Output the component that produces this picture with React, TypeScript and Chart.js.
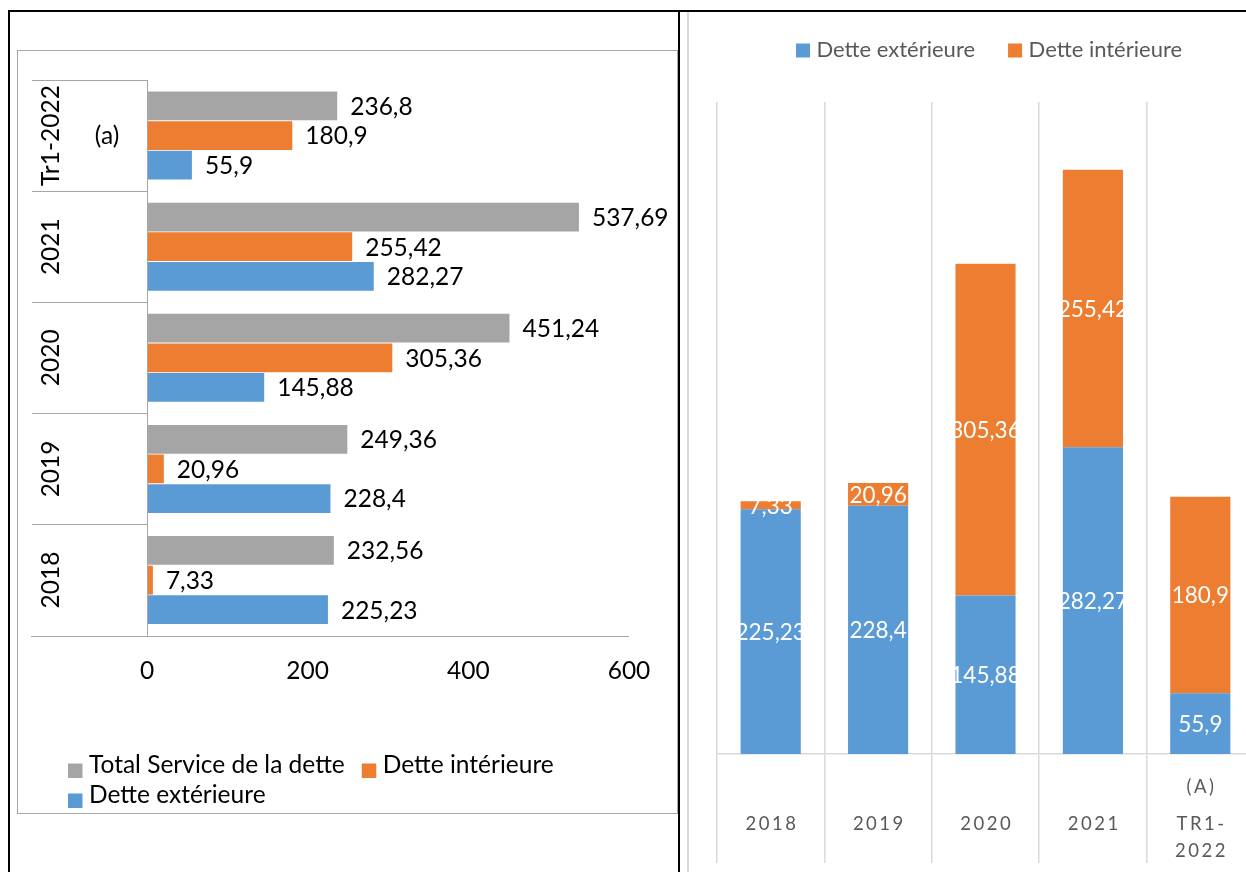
import React, { useEffect, useRef } from 'react';
import { Chart, registerables } from 'chart.js';

Chart.register(...registerables);

// ---------- data ----------
const categories = ['2018', '2019', '2020', '2021', 'Tr1-2022'];
const categoryNotes = ['', '', '', '', '(a)'];
const rightTickLabels = [['2018'], ['2019'], ['2020'], ['2021'], ['(A)', 'TR1-', '2022']];
const totalService = [232.56, 249.36, 451.24, 537.69, 236.8];
const detteInterieure = [7.33, 20.96, 305.36, 255.42, 180.9];
const detteExterieure = [225.23, 228.4, 145.88, 282.27, 55.9];
const leftXMin = 0;
const leftXMax = 600;
const leftXStep = 200;
const rightYMax = 600;

const GRAY = '#A5A5A5';
const ORANGE = '#ED7D31';
const BLUE = '#5B9BD5';
const FONT = 'Lato';
const LF = 24.5; // left chart font size

const fmt = (v: number) => String(v).replace('.', ',');

Chart.defaults.font.family = FONT;

const leftDecor = {
  id: 'leftDecor',
  afterDraw(chart: any) {
    const { ctx, chartArea: a, scales } = chart;
    const ys = scales.y;
    const n = chart.data.labels.length;
    const band = (a.bottom - a.top) / n;
    ctx.save();
    // category table lines
    ctx.strokeStyle = '#A6A6A6';
    ctx.lineWidth = 1;
    ctx.beginPath();
    for (let i = 0; i < n; i++) {
      const yTop = Math.round(ys.getPixelForValue(i) - band / 2) + 0.5;
      ctx.moveTo(14, yTop);
      ctx.lineTo(a.left, yTop);
    }
    const yb = Math.round(a.bottom) + 0.5;
    ctx.moveTo(13, yb);
    ctx.lineTo(a.right, yb);
    const xl = Math.round(a.left) + 0.5;
    ctx.moveTo(xl, a.top);
    ctx.lineTo(xl, a.bottom);
    ctx.stroke();

    // category labels (rotated)
    ctx.fillStyle = '#000';
    ctx.font = `${LF}px ${FONT}`;
    ctx.textBaseline = 'middle';
    ctx.textAlign = 'center';
    chart.data.labels.forEach((lab: string, i: number) => {
      const cy = ys.getPixelForValue(i);
      ctx.save();
      ctx.translate(33, cy);
      ctx.rotate(-Math.PI / 2);
      ctx.fillText(lab, 0, 0);
      ctx.restore();
      if (categoryNotes[i]) ctx.fillText(categoryNotes[i], 89, cy + 1);
    });

    // data labels
    ctx.textAlign = 'left';
    chart.data.datasets.forEach((ds: any, di: number) => {
      const meta = chart.getDatasetMeta(di);
      meta.data.forEach((bar: any, i: number) => {
        ctx.fillText(fmt(ds.data[i]), bar.x + 13, bar.y + 1);
      });
    });

    // legend
    const ds = chart.data.datasets;
    const rows = [[0, 1], [2]];
    const rowBase = [721.5, 751.5];
    ctx.textBaseline = 'alphabetic';
    rows.forEach((row, r) => {
      let x = 50;
      row.forEach((di) => {
        ctx.fillStyle = ds[di].backgroundColor;
        ctx.fillRect(x, rowBase[r] - 9, 14.5, 14.5);
        ctx.fillStyle = '#000';
        ctx.fillText(ds[di].label, x + 21, rowBase[r]);
        x += 21 + ctx.measureText(ds[di].label).width + 17;
      });
    });
    ctx.restore();
  },
};

const rightDecor = {
  id: 'rightDecor',
  afterDraw(chart: any) {
    const { ctx, chartArea: a, scales } = chart;
    const xs = scales.x;
    ctx.save();
    // data labels
    ctx.fillStyle = '#FFFFFF';
    ctx.font = `22.5px ${FONT}`;
    ctx.textAlign = 'center';
    ctx.textBaseline = 'middle';
    chart.data.datasets.forEach((ds: any, di: number) => {
      const meta = chart.getDatasetMeta(di);
      meta.data.forEach((bar: any, i: number) => {
        ctx.fillText(fmt(ds.data[i]), bar.x, (bar.y + bar.base) / 2 + 1);
      });
    });

    // category labels
    ctx.fillStyle = '#595959';
    ctx.font = `18.5px ${FONT}`;
    (ctx as any).letterSpacing = '2.5px';
    rightTickLabels.forEach((lines, i) => {
      const cx = xs.getPixelForValue(i) + 1.25;
      const offs = lines.length === 1 ? [70] : [33, 70, 97];
      lines.forEach((ln, k) => ctx.fillText(ln, cx, a.bottom + offs[k]));
    });
    (ctx as any).letterSpacing = '0px';

    // legend
    ctx.font = `22px ${FONT}`;
    ctx.textAlign = 'left';
    ctx.textBaseline = 'alphabetic';
    let x = 107;
    chart.data.datasets.forEach((ds: any) => {
      ctx.fillStyle = ds.backgroundColor;
      ctx.fillRect(x, 31.5, 14, 14);
      ctx.fillStyle = '#595959';
      ctx.fillText(ds.label, x + 20.5, 45);
      x += 20.5 + ctx.measureText(ds.label).width + 33;
    });
    ctx.restore();
  },
};

export default function App() {
  const leftRef = useRef<HTMLCanvasElement>(null);
  const rightRef = useRef<HTMLCanvasElement>(null);

  useEffect(() => {
    const left = new Chart(leftRef.current as HTMLCanvasElement, {
      type: 'bar',
      data: {
        labels: categories,
        datasets: [
          { label: 'Total Service de la dette', data: totalService, backgroundColor: GRAY },
          { label: 'Dette intérieure', data: detteInterieure, backgroundColor: ORANGE },
          { label: 'Dette extérieure', data: detteExterieure, backgroundColor: BLUE },
        ],
      },
      options: {
        indexAxis: 'y',
        animation: false,
        responsive: false,
        datasets: { bar: { barPercentage: 0.97, categoryPercentage: 0.8 } },
        layout: { padding: { left: 129, right: 48, top: 29, bottom: 106 } },
        plugins: { legend: { display: false }, tooltip: { enabled: false } },
        scales: {
          x: {
            type: 'linear',
            min: leftXMin,
            max: leftXMax,
            grid: { display: false, drawTicks: false },
            border: { display: false },
            ticks: { stepSize: leftXStep, color: '#000', font: { size: LF, family: FONT }, padding: 21 },
          },
          y: { reverse: true, display: false },
        },
      } as any,
      plugins: [leftDecor],
    });

    const right = new Chart(rightRef.current as HTMLCanvasElement, {
      type: 'bar',
      data: {
        labels: categories,
        datasets: [
          { label: 'Dette extérieure', data: detteExterieure, backgroundColor: BLUE },
          { label: 'Dette intérieure', data: detteInterieure, backgroundColor: ORANGE },
        ],
      },
      options: {
        animation: false,
        responsive: false,
        datasets: { bar: { barPercentage: 0.56, categoryPercentage: 1 } },
        layout: { padding: { left: 28, right: 35, top: 90, bottom: 9 } },
        plugins: { legend: { display: false }, tooltip: { enabled: false } },
        scales: {
          x: {
            stacked: true,
            grid: { color: '#D9D9D9', lineWidth: 1.5, tickLength: 109, drawTicks: true, offset: true, tickColor: '#D9D9D9' },
            border: { color: '#D9D9D9', width: 1.5 },
            ticks: { display: false },
          },
          y: { stacked: true, display: false, min: 0, max: rightYMax },
        },
      } as any,
      plugins: [rightDecor],
    });

    return () => {
      left.destroy();
      right.destroy();
    };
  }, []);

  return (
    <div style={{ position: 'absolute', left: 0, top: 0, width: 1246, height: 872, overflow: 'hidden', background: '#fff' }}>
      <div style={{ position: 'absolute', left: 17, top: 50, width: 661, height: 764, border: '1px solid #A6A6A6', boxSizing: 'border-box' }} />
      <div style={{ position: 'absolute', left: 18, top: 51, width: 659, height: 762 }}>
        <canvas ref={leftRef} width={659} height={762} style={{ display: 'block' }} />
      </div>
      <div style={{ position: 'absolute', left: 689, top: 12, width: 600, height: 860 }}>
        <canvas ref={rightRef} width={600} height={860} style={{ display: 'block' }} />
      </div>
      <div style={{ position: 'absolute', left: 687, top: 12, width: 2, height: 860, background: '#D9D9D9' }} />
      <div style={{ position: 'absolute', left: 8, top: 10, width: 1238, height: 2, background: '#000' }} />
      <div style={{ position: 'absolute', left: 8, top: 10, width: 2, height: 862, background: '#000' }} />
      <div style={{ position: 'absolute', left: 678, top: 10, width: 2, height: 862, background: '#000' }} />
    </div>
  );
}
